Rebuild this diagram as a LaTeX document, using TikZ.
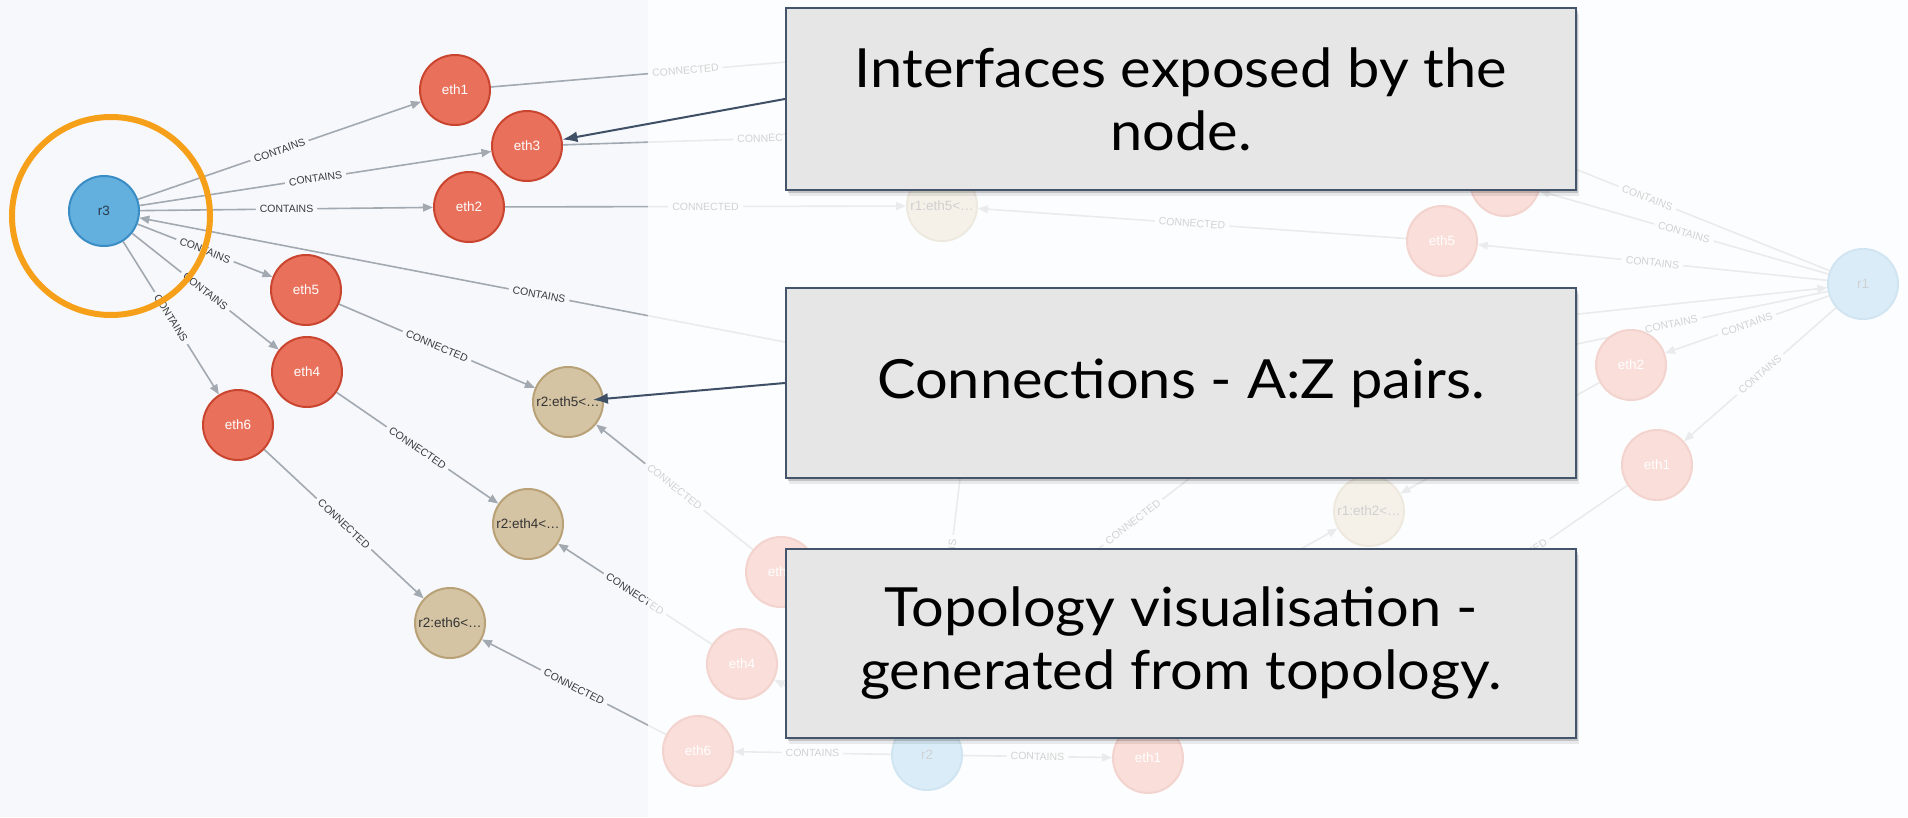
\documentclass[tikz,border=0pt]{standalone}
\usepackage{fontspec}
\newfontfamily\labfont{Liberation Sans}
\newfontfamily\notefont[FakeStretch=1.07]{Lato}
\usetikzlibrary{arrows.meta,shadows}

\definecolor{panelbg}{HTML}{F6F8FC}
\definecolor{ethfill}{HTML}{E9715B}
\definecolor{ethline}{HTML}{C9452F}
\definecolor{rfill}{HTML}{63B0DF}
\definecolor{rline}{HTML}{3A8DC4}
\definecolor{rtext}{HTML}{2B3A4A}
\definecolor{linkfill}{HTML}{D5C4A3}
\definecolor{linkline}{HTML}{B9A177}
\definecolor{linktext}{HTML}{333333}
\definecolor{edgegray}{HTML}{A3A9B1}
\definecolor{labtext}{HTML}{3A3A3A}
\definecolor{ringorange}{HTML}{F6A01A}
\definecolor{notefill}{HTML}{E6E6E6}
\definecolor{noteline}{HTML}{44546A}
\definecolor{pointercol}{HTML}{3E4F66}

\pgfdeclarelayer{bg}
\pgfdeclarelayer{edges}
\pgfdeclarelayer{fade}
\pgfdeclarelayer{top}
\pgfsetlayers{bg,edges,main,fade,top}

\begin{document}
\begin{tikzpicture}[x=1pt, y=-1pt,
  gnode/.style={circle, minimum size=70pt, inner sep=0pt, line width=2pt,
                font=\labfont\fontsize{13.5}{14}\selectfont},
  iface/.style={gnode, fill=ethfill, draw=ethline, text=white},
  router/.style={gnode, fill=rfill, draw=rline, text=rtext},
  link/.style={gnode, fill=linkfill, draw=linkline, text=linktext},
  rel/.style={draw=edgegray, line width=1.6pt, -{Triangle[length=10pt,width=8pt]}},
  plainrel/.style={draw=edgegray, line width=1.6pt},
  rlab/.style={font=\labfont\fontsize{10.5}{12}\selectfont, text=labtext,
               fill=panelbg, inner xsep=4pt, inner ysep=1pt, sloped},
  note/.style={rectangle, fill=notefill, draw=noteline, line width=2.2pt,
               minimum width=790pt, minimum height=182pt, align=center,
               text=black, font=\notefont\fontsize{54}{63}\selectfont,
               drop shadow={shadow xshift=1.5pt, shadow yshift=-3pt, opacity=0.16, fill=black},
               drop shadow={shadow xshift=2.5pt, shadow yshift=-6pt, opacity=0.08, fill=black}},
  ring/.style={draw=ringorange, line width=6pt},
  pointer/.style={draw=pointercol, line width=2pt, -{Latex[length=15pt,width=11pt]}}
]
\useasboundingbox (0,0) rectangle (1908,817);

\begin{pgfonlayer}{bg}
  \fill[panelbg] (0,0) rectangle (1908,817);
\end{pgfonlayer}

% router r3 and its interfaces
\node[router] (r3)   at (104,211) {r3};
\node[iface]  (eth1) at (455,90)  {eth1};
\node[iface]  (eth3) at (527,146) {eth3};
\node[iface]  (eth2) at (469,207) {eth2};
\node[iface]  (eth5) at (306,290) {eth5};
\node[iface]  (eth4) at (307,372) {eth4};
\node[iface]  (eth6) at (238,425) {eth6};
\node[link]   (r2e5) at (568,402) {r2:eth5<…};
\node[link]   (r2e4) at (528,524) {r2:eth4<…};
\node[link]   (r2e6) at (450,623) {r2:eth6<…};

% router r1 and its interfaces
\node[link]   (r1e5)  at (942,206)  {r1:eth5<…};
\node[iface]  (r1eth5) at (1442,241) {eth5};
\node[iface]  (r1ethA) at (1505,181) {};
\node[router] (r1)    at (1863,284) {r1};
\node[iface]  (r1eth2) at (1631,365) {eth2};
\node[iface]  (r1eth1) at (1657,465) {eth1};
\node[link]   (r1e2)  at (1369,511) {r1:eth2<…};

% router r2 and its interfaces
\node[iface]  (r2eth5) at (781,572) {eth5};
\node[iface]  (r2eth4) at (742,664) {eth4};
\node[iface]  (r2eth6) at (698,751) {eth6};
\node[router] (r2)     at (927,755) {r2};
\node[iface]  (r2eth1) at (1148,758) {eth1};

% ends of links that run beneath the notes
\coordinate (topo) at (972,378);
\coordinate (far1) at (905,52);
\coordinate (far3) at (1000,131);
\coordinate (farA) at (1465,125);
\coordinate (farB) at (1515,357);
\coordinate (farE) at (1410,635);
\coordinate (midL) at (1036,597);
\coordinate (midR) at (1230,447);
\coordinate (midS) at (1200,605);

\begin{pgfonlayer}{edges}
  % r3 side
  \draw[rel] (r3) -- node[rlab]{CONTAINS} (eth1);
  \draw[rel] (r3) -- node[rlab]{CONTAINS} (eth3);
  \draw[rel] (r3) -- node[rlab]{CONTAINS} (eth2);
  \draw[rel] (r3) -- node[rlab]{CONTAINS} (eth5);
  \draw[rel] (r3) -- node[rlab]{CONTAINS} (eth4);
  \draw[rel] (r3) -- node[rlab]{CONTAINS} (eth6);
  \draw[rel] (topo) -- node[rlab, pos=0.52]{CONTAINS} (r3);
  \draw[rel] (eth1) -- node[rlab, pos=0.47]{CONNECTED} (far1);
  \draw[plainrel] (far3) -- node[rlab, pos=0.525]{CONNECTED} (eth3);
  \draw[rel] (eth2) -- node[rlab]{CONNECTED} (r1e5);
  \draw[rel] (eth5) -- node[rlab]{CONNECTED} (r2e5);
  \draw[rel] (eth4) -- node[rlab]{CONNECTED} (r2e4);
  \draw[rel] (eth6) -- node[rlab]{CONNECTED} (r2e6);
  % r1 side
  \draw[rel] (r1eth5) -- node[rlab]{CONNECTED} (r1e5);
  \draw[rel] (r1) -- node[rlab]{CONTAINS} (r1eth5);
  \draw[rel] (r1) -- node[rlab]{CONTAINS} (r1ethA);
  \draw[rel] (r1) -- node[rlab]{CONTAINS} (farA);
  \draw[rel] (topo) -- (r1);
  \draw[rel] (r1) -- node[rlab]{CONTAINS} (farB);
  \draw[rel] (r1) -- node[rlab]{CONTAINS} (r1eth2);
  \draw[rel] (r1) -- node[rlab]{CONTAINS} (r1eth1);
  \draw[rel] (r1eth2) -- (r1e2);
  \draw[rel] (r1eth1) -- node[rlab]{CONNECTED} (farE);
  \draw[rel] (midL) -- node[rlab]{CONNECTED} (midR);
  \draw[rel] (midS) -- (r1e2);
  % r2 side
  \draw[rel] (r2eth5) -- node[rlab]{CONNECTED} (r2e5);
  \draw[rel] (r2eth4) -- node[rlab]{CONNECTED} (r2e4);
  \draw[rel] (r2eth6) -- node[rlab]{CONNECTED} (r2e6);
  \draw[rel] (r2) -- node[rlab]{CONTAINS} (r2eth6);
  \draw[rel] (r2) -- node[rlab]{CONTAINS} (r2eth1);
  \draw[rel] (r2) -- (r2eth4);
  \draw[rel] (topo) -- node[rlab, pos=0.55]{CONTAINS} (r2);
\end{pgfonlayer}

\begin{pgfonlayer}{fade}
  \fill[white, fill opacity=0.77] (648,0) rectangle (1908,817);
\end{pgfonlayer}

\begin{pgfonlayer}{top}
  \draw[ring] (111,216) circle[radius=99];
  \node[note] (box1) at (1181,99) {Interfaces exposed by the\\node.};
  \node[note, minimum height=190pt] (box2) at (1181,383) {Connections - A:Z pairs.};
  \node[note, minimum height=189pt] (box3) at (1181,643.5) {Topology visualisation -\\generated from topology.};
  \draw[pointer] (box1.west) -- (eth3);
  \draw[pointer, shorten >=-11pt] (box2.west) -- (r2e5);
\end{pgfonlayer}
\end{tikzpicture}
\end{document}
